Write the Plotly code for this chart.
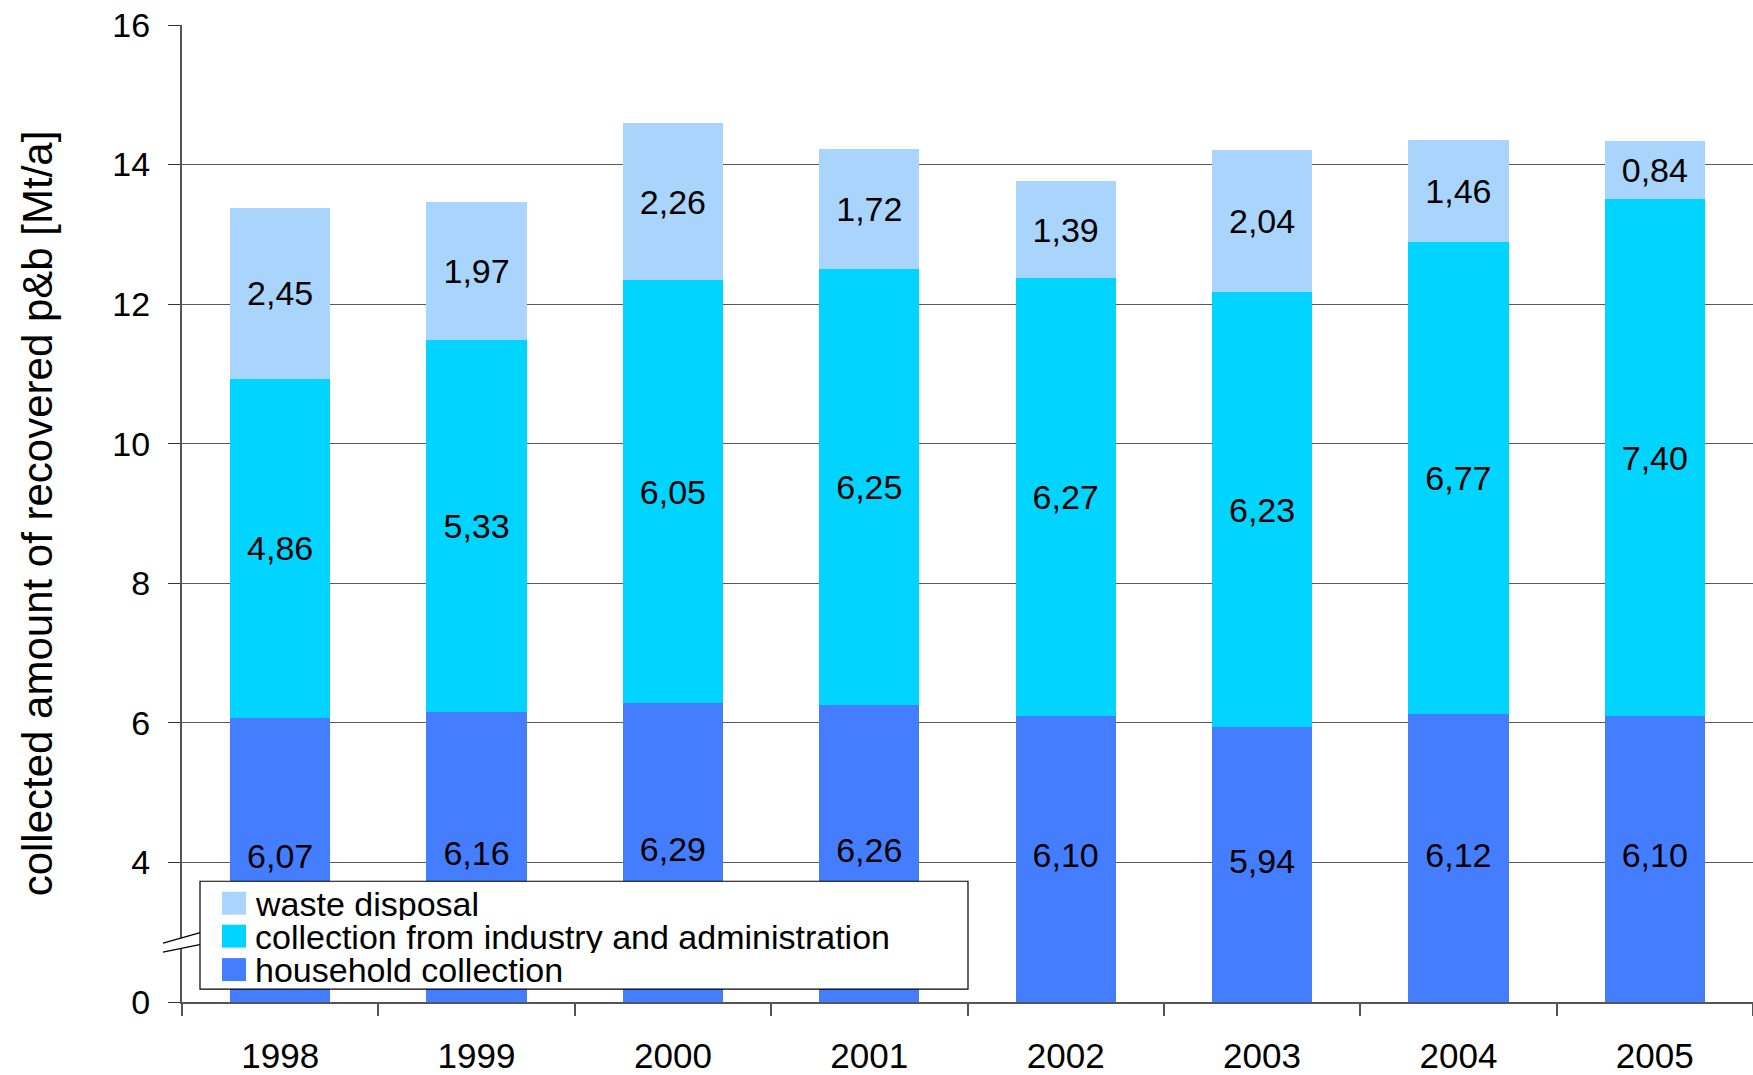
import plotly.graph_objects as go

years = ["1998", "1999", "2000", "2001", "2002", "2003", "2004", "2005"]
household = [6.07, 6.16, 6.29, 6.26, 6.10, 5.94, 6.12, 6.10]
industry = [4.86, 5.33, 6.05, 6.25, 6.27, 6.23, 6.77, 7.40]
waste = [2.45, 1.97, 2.26, 1.72, 1.39, 2.04, 1.46, 0.84]

names = ["household collection", "collection from industry and administration", "waste disposal"]
colors = ["#447EFF", "#00D4FF", "#A9D5FD"]

# broken axis: the "0" label sits where 2 would be
AXIS_FLOOR = 2
ytick_vals = [2, 4, 6, 8, 10, 12, 14, 16]
ytick_text = ["0", "4", "6", "8", "10", "12", "14", "16"]

W, H = 1753, 1075
ML, MR, MT, MB = 182, 0, 25, 71
FONT = "Liberation Sans, Arial, sans-serif"

fig = go.Figure()
for i, (vals, name, col) in enumerate(zip([household, industry, waste], names, colors)):
    fig.add_trace(go.Bar(
        x=years, y=vals, name=name, marker=dict(color=col, line=dict(width=0)),
        texttemplate="%{y:.2f}" if i > 0 else None,
        textposition="inside" if i > 0 else "none",
        insidetextanchor="middle",
        textangle=0, textfont=dict(family=FONT, size=34, color="black"),
        showlegend=False,
    ))

# household labels centred on the visible (above the axis break) part of the bars
fig.add_trace(go.Scatter(
    x=years, y=[(AXIS_FLOOR + v) / 2 for v in household], customdata=household,
    mode="text", texttemplate="%{customdata:.2f}", textposition="middle center",
    textfont=dict(family=FONT, size=34, color="black"), showlegend=False, hoverinfo="skip",
))

fig.update_layout(
    width=W, height=H, barmode="stack", bargap=0.49,
    separators=",.",
    paper_bgcolor="white", plot_bgcolor="white",
    margin=dict(l=ML, r=MR, t=MT, b=MB),
    font=dict(family=FONT, size=34, color="black"),
)
fig.update_xaxes(
    type="category", showgrid=False, showline=True, linecolor="#555", linewidth=2,
    ticks="outside", tickson="boundaries", ticklen=12, tickcolor="#555", tickwidth=1.5,
    tickfont=dict(size=35), ticklabelstandoff=22,
)
fig.update_yaxes(
    range=[2, 16], tickvals=ytick_vals, ticktext=ytick_text,
    showgrid=True, gridcolor="#5a5a5a", gridwidth=1.3,
    showline=True, linecolor="#555", linewidth=2,
    ticks="outside", ticklen=12, tickcolor="#333", tickwidth=1.3,
    tickfont=dict(size=34), ticklabelstandoff=11,
    title=dict(text="collected amount of recovered p&b [Mt/a]", font=dict(size=42), standoff=47),
)

# helpers converting page pixels to paper coordinates (decoration only)
PW, PH = W - ML - MR, H - MT - MB
def px(x):
    return (x - ML) / PW
def py(y):
    return (H - MB - y) / PH

# axis break marks
fig.add_shape(type="path", xref="paper", yref="paper",
              path=f"M {px(163)},{py(945)} L {px(202)},{py(934)} L {px(202)},{py(946)} L {px(163)},{py(954)} Z",
              fillcolor="white", line=dict(width=0), layer="above")
for (x0, y0, x1, y1) in [(163, 945, 202, 934), (163, 954, 202, 946)]:
    fig.add_shape(type="line", xref="paper", yref="paper",
                  x0=px(x0), y0=py(y0), x1=px(x1), y1=py(y1),
                  line=dict(color="black", width=1.2), layer="above")

# legend box (drawn manually to match compact row spacing)
fig.add_shape(type="rect", xref="paper", yref="paper",
              x0=px(200), y0=py(991), x1=px(968), y1=py(883),
              fillcolor="white", line=dict(color="black", width=1.2), layer="above")
rows = [905, 938, 971.5]
for yc, name, col in zip(rows, names[::-1], colors[::-1]):
    fig.add_shape(type="rect", xref="paper", yref="paper",
                  x0=px(222), y0=py(yc + 11.5), x1=px(246), y1=py(yc - 11.5),
                  fillcolor=col, line=dict(width=0), layer="above")
    fig.add_annotation(xref="paper", yref="paper", x=px(254), y=py(yc),
                       text=name, showarrow=False, xanchor="left", yanchor="middle",
                       height=33, valign="middle", borderpad=0,
                       font=dict(family=FONT, size=34, color="black"))

fig.write_html("out.html", config={"displayModeBar": False},
               post_script="document.body.style.margin='0';document.body.style.overflow='hidden';")
